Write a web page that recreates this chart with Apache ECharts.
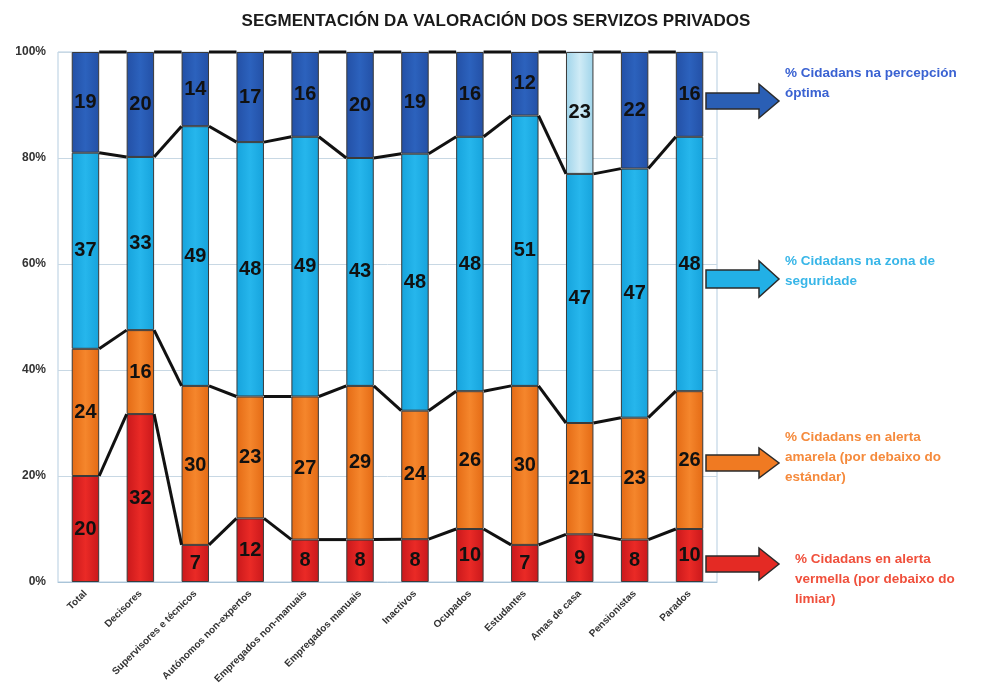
<!DOCTYPE html>
<html>
<head>
<meta charset="utf-8">
<title>Segmentación da valoración dos servizos privados</title>
<script src="https://cdn.jsdelivr.net/npm/echarts@6/dist/echarts.min.js"></script>
<style>
  html, body { margin: 0; padding: 0; background: #fff; }
  #main { width: 981px; height: 696px; }
</style>
</head>
<body>
<div id="main"></div>
<script>
const categories = ["Total", "Decisores", "Supervisores e técnicos", "Autónomos non-expertos",
  "Empregados non-manuais", "Empregados manuais", "Inactivos", "Ocupados", "Estudantes",
  "Amas de casa", "Pensionistas", "Parados"];
// bottom to top
const vermella = [20, 32, 7, 12, 8, 8, 8, 10, 7, 9, 8, 10];
const amarela = [24, 16, 30, 23, 27, 29, 24, 26, 30, 21, 23, 26];
const seguridade = [37, 33, 49, 48, 49, 43, 48, 48, 51, 47, 47, 48];
const optima = [19, 20, 14, 17, 16, 20, 19, 16, 12, 23, 22, 16];
const yTicks = [0, 20, 40, 60, 80, 100];

const seriesRaw = [vermella, amarela, seguridade, optima];
const totals = categories.map((c, i) => seriesRaw.reduce((s, arr) => s + arr[i], 0));
// 100% stacked: each column scaled to its own total
const shares = seriesRaw.map(arr => arr.map((v, i) => v / totals[i] * 100));

const cumulative = [];
shares.forEach((arr, k) => {
  cumulative.push(arr.map((v, i) => (k ? cumulative[k - 1][i] : 0) + v));
});

const lineData = [];
cumulative.forEach(level => {
  for (let i = 0; i < categories.length - 1; i++) {
    lineData.push([i, level[i], i + 1, level[i + 1]]);
  }
});

function grad(edge, mid) {
  return new echarts.graphic.LinearGradient(0, 0, 1, 0, [
    { offset: 0, color: edge },
    { offset: 0.5, color: mid },
    { offset: 1, color: edge }
  ]);
}

const fills = [
  grad("#c9181b", "#ea2a26"),
  grad("#e46a14", "#f5862c"),
  grad("#16a3dc", "#26b6ec"),
  grad("#2350a6", "#2c62bd")
];

function barSeries(k) {
  return {
    type: "bar",
    stack: "total",
    barWidth: "50%",
    data: shares[k].map((v, i) => {
      const item = { value: v };
      if (k === 3 && categories[i] === "Amas de casa") {
        item.itemStyle = { color: grad("#9fd4ea", "#cfebf6") };
      }
      return item;
    }),
    itemStyle: { color: fills[k], borderColor: "#3a3a3a", borderWidth: 1 },
    label: {
      show: true,
      position: "inside",
      formatter: p => seriesRaw[k][p.dataIndex],
      color: "#111",
      fontFamily: "Arial",
      fontWeight: "bold",
      fontSize: 20
    }
  };
}

function arrow(cy, color, sh, hh) {
  return {
    type: "polygon",
    z: 10,
    shape: {
      points: [[706, cy - sh], [759, cy - sh], [759, cy - hh], [779, cy],
        [759, cy + hh], [759, cy + sh], [706, cy + sh]]
    },
    style: { fill: color, stroke: "#2b2b2b", lineWidth: 1.5 }
  };
}

function note(x, y, text, color) {
  return {
    type: "text",
    z: 10,
    x: x,
    y: y,
    style: { text: text, fill: color, font: "bold 13.5px Arial", lineHeight: 20 }
  };
}

const myChart = echarts.init(document.getElementById("main"));

myChart.setOption({
  animation: false,
  title: {
    text: "SEGMENTACIÓN DA VALORACIÓN DOS SERVIZOS PRIVADOS",
    left: 491,
    top: 8,
    textAlign: "center",
    textStyle: { fontFamily: "Arial", fontWeight: "bold", fontSize: 17, color: "#1a1a1a" }
  },
  grid: {
    left: 58, right: 264, top: 52, bottom: 114,
    show: true, borderColor: "#b5cde0", borderWidth: 1
  },
  xAxis: {
    type: "category",
    data: categories,
    axisLine: { lineStyle: { color: "#a9c4d8" } },
    axisTick: { show: false },
    axisLabel: {
      interval: 0,
      rotate: 45,
      fontSize: 10,
      fontFamily: "Arial",
      fontWeight: "bold",
      color: "#333",
      margin: 10
    }
  },
  yAxis: {
    type: "value",
    min: yTicks[0],
    max: yTicks[yTicks.length - 1],
    interval: yTicks[1] - yTicks[0],
    axisLine: { show: false },
    axisTick: { show: false },
    axisLabel: {
      formatter: "{value}%",
      fontSize: 12,
      fontFamily: "Arial",
      fontWeight: "bold",
      color: "#333",
      margin: 12
    },
    splitLine: { lineStyle: { color: "#c8d8e4" } }
  },
  series: [
    barSeries(0), barSeries(1), barSeries(2), barSeries(3),
    {
      type: "custom",
      z: 5,
      clip: false,
      data: lineData,
      encode: { x: 0, y: 1 },
      renderItem: (params, api) => {
        const a = api.coord([api.value(0), api.value(1)]);
        const b = api.coord([api.value(2), api.value(3)]);
        const half = api.size([1, 0])[0] * 0.25;
        return {
          type: "line",
          shape: { x1: a[0] + half, y1: a[1], x2: b[0] - half, y2: b[1] },
          style: { stroke: "#111", lineWidth: 3 }
        };
      }
    }
  ],
  graphic: [
    arrow(101, "#2a5fb5", 8, 17),
    arrow(279, "#22b0e6", 9, 18),
    arrow(463, "#f07a22", 8, 15),
    arrow(564, "#e42a24", 8, 16),
    note(785, 63, "% Cidadans na percepción\nóptima", "#3a62d2"),
    note(785, 251, "% Cidadans na zona de\nseguridade", "#38b6e8"),
    note(785, 427, "% Cidadans en alerta\namarela (por debaixo do\nestándar)", "#f58a3c"),
    note(795, 549, "% Cidadans en alerta\nvermella (por debaixo do\nlimiar)", "#f0503c")
  ]
});
</script>
</body>
</html>
